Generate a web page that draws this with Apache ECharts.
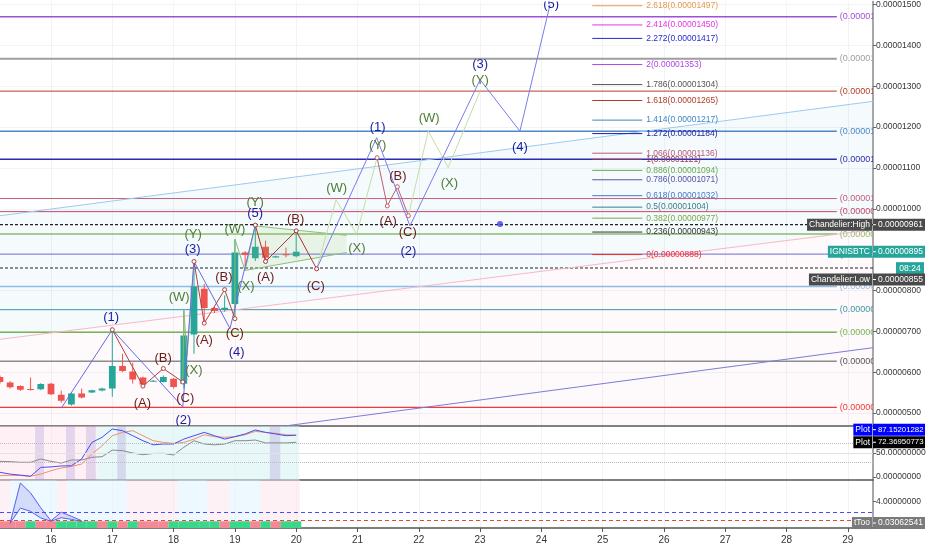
<!DOCTYPE html>
<html lang="en">
<head>
<meta charset="UTF-8">
<title>IGNISBTC</title>
<script src="https://cdn.jsdelivr.net/npm/echarts@6.0.0/dist/echarts.min.js"></script>
<style>
  html, body { margin: 0; background: #fff; }
  #chart { width: 932px; height: 550px; }
</style>
</head>
<body>
<div id="chart"></div>
<script>
// prices are in satoshi (1e-8 BTC), time is in days of the month (4h candles)
var candleTimes = [15.167, 15.333, 15.5, 15.667, 15.833, 16.0, 16.167, 16.333, 16.5, 16.667,
                   16.833, 17.0, 17.167, 17.333, 17.5, 17.667, 17.833, 18.0, 18.167, 18.333,
                   18.5, 18.667, 18.833, 19.0, 19.167, 19.333, 19.5, 19.667, 19.833, 20.0];
var opens  = [588, 575, 566, 559, 558, 572, 545, 521, 548, 550, 555, 560, 615, 602, 587,
              577, 576, 584, 572, 692, 804, 757, 752, 767, 893, 879, 907, 881, 889, 884];
var closes = [576, 563, 557, 557, 571, 546, 530, 548, 538, 556, 560, 615, 603, 582, 570,
              579, 588, 564, 690, 810, 757, 750, 758, 893, 887, 907, 880, 884, 886, 895];
var lows   = [572, 560, 554, 555, 556, 544, 525, 518, 536, 549, 553, 540, 600, 572, 566,
              576, 575, 560, 560, 645, 720, 745, 748, 731, 860, 872, 871, 880, 881, 881];
var highs  = [592, 578, 568, 587, 573, 574, 555, 550, 560, 557, 562, 705, 645, 623, 589,
              581, 592, 586, 751, 871, 816, 760, 788, 924, 896, 960, 922, 885, 905, 946];

// horizontal levels drawn across the chart
var levels = [1470, 1367, 1288, 1190, 1121, 1025, 993, 938, 889, 810, 753, 698, 627, 514];
var chandelierHigh = 961, chandelierLow = 855, lastPrice = 895;

// fibonacci extension
var fibRatios = ['2.618', '2.414', '2.272', '2', '1.786', '1.618', '1.414', '1.272', '1.066',
                 '1', '0.886', '0.786', '0.618', '0.5', '0.382', '0.236', '0'];
var fibPrices = [1497, 1450, 1417, 1353, 1304, 1265, 1217, 1184, 1136,
                 1121, 1094, 1071, 1032, 1004, 977, 943, 888];

// trend lines [day, price]
var channelTop = [[15.168, 983], [29.41, 1263]];
var channelBottom = [[15.168, 680.5], [29.41, 948.8]];
var lowerTrend = [[19.8, 468], [29.41, 660]];

// elliott wave paths
var waveBlue1 = [[16.167, 512], [17.0, 704], [18.15, 515], [18.333, 871], [18.92, 707], [19.333, 960]];
var waveBlue2 = [[20.334, 853], [21.313, 1174], [21.856, 958], [23.0, 1316], [23.65, 1190], [24.14, 1499]];
var abc1 = [[17.0, 704], [17.5, 566], [17.833, 609], [18.15, 576]];
var abc2 = [[18.333, 871], [18.5, 720], [18.833, 802], [19.0, 731]];
var abc3 = [[19.333, 960], [19.5, 871], [20.0, 946], [20.334, 853]];
var abc4 = [[21.32, 1125], [21.486, 1007], [21.65, 1054], [21.83, 983]];
var wxy1 = [[18.15, 576], [18.167, 751], [18.22, 641], [18.333, 871]];
var wxy2 = [[19.0, 731], [19.0, 926], [19.165, 849], [19.333, 960]];
var wxy3 = [[20.334, 853], [20.65, 1022], [20.987, 938], [21.323, 1127]];
var wxy4 = [[21.83, 983], [22.155, 1190], [22.48, 1101], [23.0, 1288]];
var triUpper = [[19.333, 958], [20.824, 935]];
var triLower = [[19.165, 849], [20.824, 893]];
var markerDot = [[23.325, 963]];

var blueLabels = [[16.98, 735, '(1)'], [18.16, 481, '(2)'], [18.31, 900, '(3)'], [19.03, 649, '(4)'],
                  [19.33, 989, '(5)'], [21.33, 1200, '(1)'], [21.83, 896, '(2)'], [23.0, 1353, '(3)'],
                  [23.65, 1150, '(4)'], [24.16, 1500, '(5)']];
var brownLabels = [[17.49, 524, '(A)'], [17.83, 633, '(B)'], [18.19, 536, '(C)'], [18.5, 678, '(A)'],
                   [18.82, 831, '(B)'], [19.0, 694, '(C)'], [19.5, 831, '(A)'], [19.99, 973, '(B)'],
                   [20.32, 810, '(C)'], [21.5, 969, '(A)'], [21.66, 1080, '(B)'], [21.82, 941, '(C)']];
var greenLabels = [[18.09, 784, '(W)'], [18.33, 605, '(X)'], [18.32, 938, '(Y)'], [19.0, 950, '(W)'],
                   [19.18, 810, '(X)'], [19.33, 1015, '(Y)'], [20.66, 1050, '(W)'], [20.99, 902, '(X)'],
                   [21.33, 1154, '(Y)'], [22.17, 1221, '(W)'], [22.5, 1062, '(X)'], [23.0, 1314, '(Y)']];

// oscillator pane
var rsiFast = [9.8, 6, 4, 1.5, 20, 21, 23, 23.5, 37.5, 72, 82.7, 100, 96.5, 86, 75.6,
               67, 68.75, 68.75, 79, 86, 93, 86, 79, 84, 89.6, 98, 93, 89.6, 86, 87.15];
var rsiSlow = [2.8, 3.5, 3, 1.5, 6, 13, 18.75, 22, 27, 48, 65, 86, 93, 96.5, 86,
               75.6, 72, 70, 72, 79, 88, 84, 82.7, 84, 88, 95, 93, 91, 88, 87];
var rsiGray = [32.6, 32, 30.6, 30.6, 37.5, 32.6, 29, 35.4, 35.4, 41, 42.3, 56, 55, 50, 46.5,
               49, 49.3, 45.8, 62, 75.6, 68.75, 67, 68.75, 75.6, 75.6, 77, 71, 71, 71, 72.37];
var rsiPink = [[15.168, 16.75]];
var rsiCyan = [[16.75, 20.05]];
var rsiPurple = [[15.74, 15.886], [16.245, 16.39], [16.57, 16.73], [17.08, 17.22], [19.57, 19.74]];

// bottom pane
var spikeTimes = [15.333, 15.5, 15.667, 15.833, 16.0, 16.167, 16.333, 16.5];
var spikeUpper = [0, 7.3, 5.5, 2.8, 0.45, 2.0, 1.25, 0.45];
var spikeLower = [0, 2.75, 2.15, 0.95, 0.35, 1.0, 0.7, 0.3];
var trendSign = [-1, -1, -1, 1, -1, -1, 1, 1, 1, 1, -1, 1, -1, 1, -1,
                 -1, -1, 1, 1, 1, 1, 1, -1, 1, 1, -1, 1, -1, 1, 1];
var bandPink = [[15.168, 15.33], [16.1, 16.26], [17.24, 18.06], [18.55, 18.92], [19.41, 20.06]];
var bandCyan = [[15.33, 16.1], [16.26, 17.24], [18.06, 18.55], [18.92, 19.41]];

var X_MIN = 15.168, X_MAX = 29.41;
var LEVEL_END = 28.82, FIB_X0 = 24.83, FIB_X1 = 25.646;
var FONT = '"Liberation Sans", Arial, sans-serif';
var levelColors = ['#a24fd8', '#9e9e9e', '#b3402c', '#4f86c6', '#2b2bb0', '#c0607a', '#c4486a',
                   '#8cbc6c', '#6a6ad0', '#8fbbe6', '#3f97a3', '#78b457', '#555555', '#f23a3a'];
var levelWidths = [1.5, 2, 1, 1.5, 1.5, 1, 1, 1.5, 1, 1.5, 1, 1.5, 1, 1.2];
var fibColors = ['#e69a4c', '#e535e5', '#2a2ad0', '#b045e6', '#555555', '#b03c28', '#3d85c6', '#1c1ca8',
                 '#b85c7a', '#9a3a5a', '#6aa84f', '#5555a8', '#4a78c8', '#3a7d8c', '#7aab4a', '#333333', '#ff2a2a'];

var myChart = echarts.init(document.getElementById('chart'));

function xy(arr) { return arr.map(function (v, i) { return [candleTimes[i], v]; }); }

function polygonSeries(pts, fill, idx, z) {
    return {
        type: 'custom', xAxisIndex: idx, yAxisIndex: idx, silent: true, clip: true, z: z || 1,
        data: [pts[0]],
        renderItem: function (params, api) {
            return {
                type: 'polygon',
                shape: { points: pts.map(function (p) { return api.coord(p); }) },
                style: { fill: fill }
            };
        }
    };
}

function pathSeries(pts, color, width, dots) {
    return {
        type: 'line', data: pts, xAxisIndex: 0, yAxisIndex: 0, z: 4, silent: true,
        lineStyle: { color: color, width: width },
        symbol: dots ? 'circle' : 'none', symbolSize: 4, showSymbol: !!dots,
        itemStyle: { color: '#fff', borderColor: color, borderWidth: 1 }
    };
}

// wave labels drawn as text at their data position
function labelSeries(list, color) {
    return {
        type: 'custom', xAxisIndex: 0, yAxisIndex: 0, z: 6, silent: true, clip: true,
        data: list.map(function (l) { return [l[0], l[1]]; }),
        renderItem: function (params, api) {
            var p = api.coord([api.value(0), api.value(1)]);
            return {
                type: 'text', x: p[0], y: p[1],
                style: { text: list[params.dataIndex][2], fill: color, font: '13px ' + FONT,
                         align: 'center', verticalAlign: 'middle' }
            };
        }
    };
}

function bandAreas(spans, color) {
    return spans.map(function (s) {
        return [{ xAxis: s[0], itemStyle: { color: color } }, { xAxis: s[1] }];
    });
}

// price tags next to the right axis
function tagSeries(idx, tags, valueFont) {
    return {
        type: 'custom', xAxisIndex: idx, yAxisIndex: idx, clip: false, silent: true, z: 20,
        data: tags.map(function (t) { return [X_MAX, t.price]; }),
        renderItem: function (params, api) {
            var t = tags[params.dataIndex];
            var p = api.coord([X_MAX, api.value(1)]);
            var x = p[0], y = p[1] + (t.dy || 0);
            var ch = [];
            if (t.name) {
                ch.push({
                    type: 'text', x: x - 1, y: y,
                    style: {
                        text: t.name, fill: '#fff', backgroundColor: t.bg, padding: [2, 2, 1, 2],
                        font: '8.5px ' + FONT, align: 'right', verticalAlign: 'middle'
                    }
                });
            }
            ch.push({ type: 'rect', shape: { x: x, y: y - 6, width: 52, height: 12 }, style: { fill: t.bg } });
            ch.push({ type: 'line', shape: { x1: x, y1: y, x2: x + 3, y2: y }, style: { stroke: '#fff', lineWidth: 1 } });
            ch.push({
                type: 'text', x: x + 5, y: y,
                style: { text: t.text, fill: '#fff', font: valueFont + ' ' + FONT, verticalAlign: 'middle' }
            });
            if (t.sub) {
                ch.push({ type: 'rect', shape: { x: x + 23, y: y + 10.5, width: 28, height: 12 }, style: { fill: t.bg } });
                ch.push({
                    type: 'text', x: x + 37, y: y + 16.5,
                    style: { text: t.sub, fill: '#fff', font: '8.5px ' + FONT, align: 'center', verticalAlign: 'middle' }
                });
            }
            return { type: 'group', children: ch };
        }
    };
}

var mainTags = [
    { price: chandelierHigh, name: 'Chandelier:High', text: '0.00000961', bg: '#4a4a4a' },
    { price: lastPrice, name: 'IGNISBTC', text: '0.00000895', bg: '#26a69a', sub: '08:24' },
    { price: chandelierLow, name: 'Chandelier:Low', text: '0.00000855', bg: '#4a4a4a', dy: 11.5 }
];
var rsiTags = [
    { price: 87.152, name: 'Plot', text: '87.15201282', bg: '#0000ff', dy: -5.5 },
    { price: 72.3695, name: 'Plot', text: '72.36950773', bg: '#000000' }
];
var lowTags = [{ price: 0.0306, name: 'tToo', text: '0.03062541', bg: '#7a7a7a' }];

var dayTicks = [16, 17, 18, 19, 20, 21, 22, 23, 24, 25, 26, 27, 28, 29];

function xAxisFor(idx, labels) {
    return {
        type: 'value', gridIndex: idx, min: X_MIN, max: X_MAX,
        axisLine: { show: true, onZero: false, lineStyle: { color: '#555', width: 1.5 } },
        axisTick: { show: labels, customValues: dayTicks, length: 4, lineStyle: { color: '#555' } },
        axisLabel: {
            show: labels, customValues: dayTicks, color: '#333', fontSize: 10, fontFamily: FONT, margin: 7,
            formatter: function (v) { return String(Math.round(v)); }
        },
        splitLine: { show: true, lineStyle: { color: '#f3f3f3' } }
    };
}

function yAxisFor(idx, min, max, ticks, fmt) {
    return {
        type: 'value', gridIndex: idx, position: 'right', min: min, max: max,
        axisLine: { show: true, lineStyle: { color: '#8a8a8a', width: 1.5 } },
        axisTick: { show: true, customValues: ticks, length: 3, lineStyle: { color: '#666' } },
        axisLabel: { customValues: ticks, color: '#333', fontSize: 8.5, fontFamily: FONT, margin: 3, formatter: fmt },
        splitLine: { show: idx === 0, lineStyle: { color: '#f3f3f3' } }
    };
}

var option = {
    animation: false,
    backgroundColor: '#fff',
    grid: [
        { left: 0, right: 59, top: 0, height: 426 },
        { left: 0, right: 59, top: 426, height: 54 },
        { left: 0, right: 59, top: 480, height: 48 }
    ],
    xAxis: [xAxisFor(0, false), xAxisFor(1, false), xAxisFor(2, true)],
    yAxis: [
        yAxisFor(0, 468.3, 1507.3, [500, 600, 700, 800, 1000, 1100, 1200, 1300, 1400, 1500],
            function (v) { return (v / 1e8).toFixed(8); }),
        yAxisFor(1, -6.25, 106.25, [0, 50], function (v) { return v.toFixed(8); }),
        yAxisFor(2, -0.87, 7.85, [4], function (v) { return v.toFixed(8); })
    ],
    series: [
        // channel backgrounds
        polygonSeries([channelTop[0], channelTop[1], channelBottom[1], channelBottom[0]], 'rgba(120,180,230,0.07)', 0, 0),
        polygonSeries([channelBottom[0], channelBottom[1], [X_MAX, 468.3], [X_MIN, 468.3]], 'rgba(240,150,170,0.06)', 0, 0),
        // horizontal levels
        {
            type: 'custom', xAxisIndex: 0, yAxisIndex: 0, clip: true, silent: true, z: 2,
            data: levels.map(function (l) { return [X_MIN, l]; }),
            renderItem: function (params, api) {
                var i = params.dataIndex, lv = api.value(1);
                var a = api.coord([X_MIN, lv]), b = api.coord([LEVEL_END, lv]);
                return {
                    type: 'group', children: [
                        { type: 'line', shape: { x1: a[0], y1: a[1], x2: b[0], y2: b[1] },
                          style: { stroke: levelColors[i], lineWidth: levelWidths[i] } },
                        { type: 'text', x: b[0] + 3, y: b[1],
                          style: { text: '(' + (lv / 1e8).toFixed(8) + ')', fill: levelColors[i],
                                   font: '9px ' + FONT, verticalAlign: 'middle' } }
                    ]
                };
            }
        },
        // chandelier exit lines
        {
            type: 'custom', xAxisIndex: 0, yAxisIndex: 0, clip: true, silent: true, z: 2,
            data: [[X_MIN, chandelierHigh], [X_MIN, chandelierLow]],
            renderItem: function (params, api) {
                var a = api.coord([X_MIN, api.value(1)]), b = api.coord([X_MAX, api.value(1)]);
                return { type: 'line', shape: { x1: a[0], y1: a[1], x2: b[0], y2: b[1] },
                         style: { stroke: '#222', lineWidth: 1.2, lineDash: [3, 2] } };
            }
        },
        // trend lines
        { type: 'line', data: channelTop, symbol: 'none', silent: true, z: 2, lineStyle: { color: '#9ccaf0', width: 1 } },
        { type: 'line', data: channelBottom, symbol: 'none', silent: true, z: 2, lineStyle: { color: '#f6b8c8', width: 1 } },
        { type: 'line', data: lowerTrend, symbol: 'none', silent: true, z: 2, lineStyle: { color: '#7b7bdc', width: 1 } },
        // fib labels
        {
            type: 'custom', xAxisIndex: 0, yAxisIndex: 0, clip: true, silent: true, z: 5,
            data: fibPrices.map(function (p) { return [FIB_X0, p]; }),
            renderItem: function (params, api) {
                var i = params.dataIndex, p = api.value(1);
                var a = api.coord([FIB_X0, p]), b = api.coord([FIB_X1, p]);
                return {
                    type: 'group', children: [
                        { type: 'line', shape: { x1: a[0], y1: a[1], x2: b[0], y2: b[1] },
                          style: { stroke: fibColors[i], lineWidth: 1 } },
                        { type: 'text', x: b[0] + 4, y: b[1],
                          style: { text: fibRatios[i] + '(' + (p / 1e8).toFixed(8) + ')', fill: fibColors[i],
                                   font: '8.5px ' + FONT, verticalAlign: 'middle' } }
                    ]
                };
            }
        },
        // candles
        {
            type: 'custom', xAxisIndex: 0, yAxisIndex: 0, clip: true, silent: true, z: 3,
            data: candleTimes.map(function (t, i) { return [t, opens[i], closes[i], lows[i], highs[i]]; }),
            encode: { x: 0, y: [1, 2, 3, 4] },
            renderItem: function (params, api) {
                var t = api.value(0), o = api.value(1), c = api.value(2);
                var po = api.coord([t, o]), pc = api.coord([t, c]);
                var pl = api.coord([t, api.value(3)]), ph = api.coord([t, api.value(4)]);
                var w = api.size([1 / 6, 0])[0] * 0.66;
                var color = c >= o ? '#26a69a' : '#ef5350';
                return {
                    type: 'group', children: [
                        { type: 'line', shape: { x1: pl[0], y1: pl[1], x2: ph[0], y2: ph[1] }, style: { stroke: color, lineWidth: 1 } },
                        { type: 'rect', shape: { x: po[0] - w / 2, y: Math.min(po[1], pc[1]), width: w,
                                                 height: Math.max(1, Math.abs(po[1] - pc[1])) }, style: { fill: color } }
                    ]
                };
            }
        },
        // triangle
        polygonSeries([triUpper[0], triUpper[1], triLower[1], triLower[0]], 'rgba(139,195,74,0.12)', 0, 3),
        pathSeries(triUpper, '#8fc07a', 1, false),
        pathSeries(triLower, '#8fc07a', 1, false),
        // waves
        pathSeries(wxy1, '#8dbb6e', 1, false),
        pathSeries(wxy2, '#8dbb6e', 1, false),
        pathSeries(wxy3, '#c2dfa8', 1, false),
        pathSeries(wxy4, '#c2dfa8', 1, false),
        pathSeries(waveBlue1, '#6b6be6', 1, false),
        pathSeries(waveBlue2, '#7b7bea', 1, false),
        pathSeries(abc1, '#b0423f', 1, true),
        pathSeries(abc2, '#b0423f', 1, true),
        pathSeries(abc3, '#a8343a', 1, true),
        pathSeries(abc4, '#c0606a', 1, true),
        labelSeries(greenLabels, '#4e7c34'),
        labelSeries(brownLabels, '#6b1a1a'),
        labelSeries(blueLabels, '#1b1ba0'),
        { type: 'scatter', data: markerDot, symbolSize: 6, silent: true, z: 6, itemStyle: { color: '#4040e0' } },
        tagSeries(0, mainTags, '8.5px'),

        // oscillator pane
        {
            type: 'line', xAxisIndex: 1, yAxisIndex: 1, data: xy(rsiGray), symbol: 'none', silent: true, z: 3,
            lineStyle: { color: '#8a8a8a', width: 1 },
            markArea: {
                silent: true,
                data: bandAreas(rsiPink, 'rgba(252,222,232,0.45)')
                    .concat(bandAreas(rsiCyan, 'rgba(214,240,240,0.55)'))
                    .concat(bandAreas(rsiPurple, 'rgba(170,150,215,0.3)'))
            },
            markLine: {
                silent: true, symbol: 'none', label: { show: false },
                lineStyle: { color: '#bbb', type: 'dotted', width: 1 },
                data: [{ yAxis: 70 }, { yAxis: 30 }, { yAxis: 50, lineStyle: { type: 'solid', color: '#e2e2e2' } }]
            }
        },
        { type: 'line', xAxisIndex: 1, yAxisIndex: 1, data: xy(rsiSlow), symbol: 'none', silent: true, z: 3,
          lineStyle: { color: '#f0906e', width: 1 } },
        { type: 'line', xAxisIndex: 1, yAxisIndex: 1, data: xy(rsiFast), symbol: 'none', silent: true, z: 4,
          lineStyle: { color: '#4a4af5', width: 1 } },
        tagSeries(1, rsiTags, '7.8px'),

        // bottom pane
        {
            type: 'custom', xAxisIndex: 2, yAxisIndex: 2, clip: true, silent: true, z: 3,
            data: candleTimes.map(function (t, i) { return [t, trendSign[i]]; }),
            renderItem: function (params, api) {
                var t = api.value(0);
                var a = api.coord([t - 1 / 12, 0.35]), b = api.coord([t + 1 / 12, -0.87]);
                return { type: 'rect', shape: { x: a[0], y: a[1], width: b[0] - a[0], height: b[1] - a[1] },
                         style: { fill: api.value(1) > 0 ? '#3ad68a' : '#f28a96' } };
            }
        },
        polygonSeries(spikeTimes.map(function (t, i) { return [t, spikeUpper[i]]; })
            .concat(spikeTimes.map(function (t, i) { return [t, spikeLower[i]]; }).reverse()),
            'rgba(120,120,235,0.22)', 2, 2),
        {
            type: 'line', xAxisIndex: 2, yAxisIndex: 2, symbol: 'none', silent: true, z: 4,
            data: spikeTimes.map(function (t, i) { return [t, spikeUpper[i]]; }),
            lineStyle: { color: '#5b5bf0', width: 1 },
            markArea: {
                silent: true,
                data: bandAreas(bandPink, 'rgba(252,228,236,0.5)').concat(bandAreas(bandCyan, 'rgba(225,245,254,0.6)'))
            },
            markLine: {
                silent: true, symbol: 'none', label: { show: false },
                data: [{ yAxis: 2, lineStyle: { color: '#4a4aff', type: [4, 3], width: 1.2 } },
                       { yAxis: 0.618, lineStyle: { color: '#e04848', type: [4, 3], width: 1 } }]
            }
        },
        {
            type: 'line', xAxisIndex: 2, yAxisIndex: 2, symbol: 'none', silent: true, z: 4,
            data: spikeTimes.map(function (t, i) { return [t, spikeLower[i]]; }),
            lineStyle: { color: '#5b5bf0', width: 1 }
        },
        tagSeries(2, lowTags, '8.5px')
    ]
};

myChart.setOption(option);
</script>
</body>
</html>
